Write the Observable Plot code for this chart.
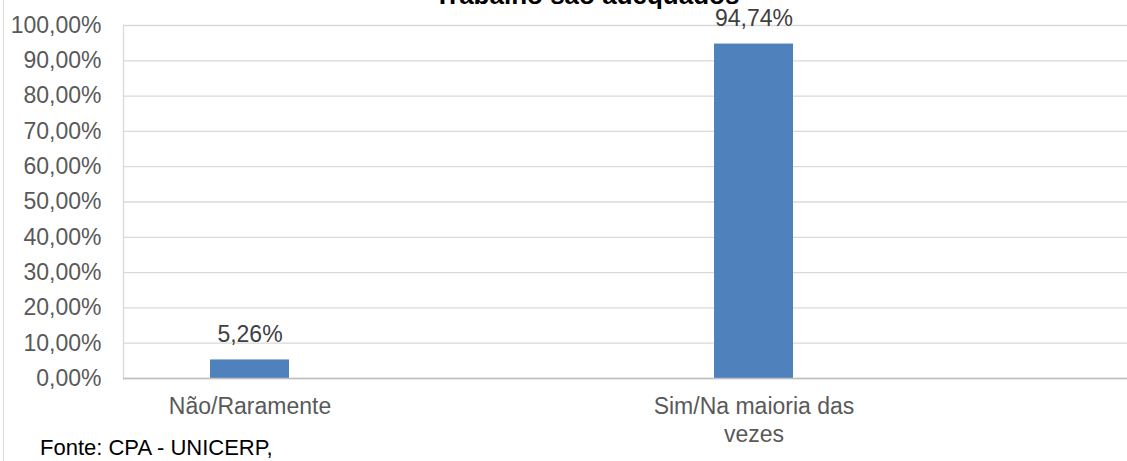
<!DOCTYPE html>
<html>
<head>
<meta charset="utf-8">
<script src="https://cdn.jsdelivr.net/npm/d3@7"></script>
<script src="https://cdn.jsdelivr.net/npm/@observablehq/plot@0.6"></script>
<style>
  html, body { margin: 0; padding: 0; background: #fff; }
  #wrap { position: relative; width: 1127px; height: 461px; overflow: hidden; font-family: "Liberation Sans", Arial, sans-serif; }
  #frame { position: absolute; left: 3px; top: 0; width: 0; height: 461px; border-left: 1px solid #d9d9d9; }
  #title { position: absolute; left: 0; width: 1174px; text-align: center; top: -20px; font-size: 26px; font-weight: bold; color: #000; white-space: nowrap; }
  #caption { position: absolute; left: 40px; top: 435px; font-size: 22px; color: #000; }
  #chart { position: absolute; left: 0; top: 0; }
</style>
</head>
<body>
<div id="wrap">
  <div id="chart"></div>
  <div id="frame"></div>
  <div id="title">Trabalho são adequados</div>
  <div id="caption">Fonte: CPA - UNICERP,</div>
</div>
<script>
const categories = ["Não/Raramente", "Sim/Na maioria das vezes"];
const values = [0.0526, 0.9474];
const valueLabels = ["5,26%", "94,74%"];
const yTicks = [0, 0.1, 0.2, 0.3, 0.4, 0.5, 0.6, 0.7, 0.8, 0.9, 1.0];

const data = categories.map((c, i) => ({cat: c, v: values[i], label: valueLabels[i]}));
const fmtPct = d => (d * 100).toFixed(2).replace(".", ",") + "%";
const wrapLabel = d => d === "Sim/Na maioria das vezes" ? "Sim/Na maioria das\nvezes" : d;

const chart = Plot.plot({
  width: 1127,
  height: 461,
  marginTop: 25,
  marginBottom: 83,
  marginLeft: 123,
  marginRight: 0,
  style: {fontFamily: "'Liberation Sans', Arial, sans-serif", background: "transparent"},
  x: {domain: categories, paddingInner: 0.8436, paddingOuter: 0.416, align: 0.207},
  y: {domain: [0, 1]},
  marks: [
    Plot.gridY(yTicks, {stroke: "#d9d9d9", strokeOpacity: 1, strokeWidth: 1.3}),
    Plot.frame({anchor: "left", stroke: "#d9d9d9", strokeWidth: 1.3}),
    Plot.barY(data, {x: "cat", y: "v", fill: "#4f81bd"}),
    Plot.ruleY([0], {stroke: "#bfbfbf", strokeWidth: 1.5}),
    Plot.text(data, {x: "cat", y: "v", text: "label", dy: -25, fill: "#404040", fontSize: 23, lineAnchor: "middle"}),
    Plot.axisY(yTicks, {tickSize: 0, tickPadding: 22, tickFormat: fmtPct, fontSize: 23, fill: "#595959", label: null}),
    Plot.axisX({tickSize: 0, tickPadding: 16, tickFormat: wrapLabel, fontSize: 23, fill: "#595959", lineHeight: 1.22, label: null})
  ]
});
document.getElementById("chart").appendChild(chart);
</script>
</body>
</html>
